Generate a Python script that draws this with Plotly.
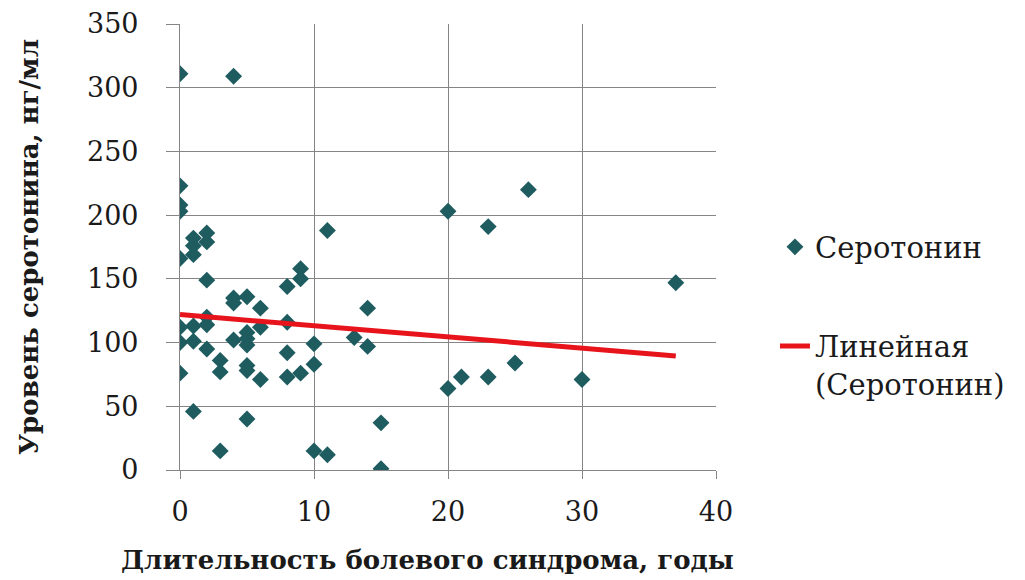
import plotly.graph_objects as go

# Duration of pain syndrome (years) and serum serotonin level (ng/ml)
duration_years = [
    0, 0, 0, 0, 0, 0, 0, 0,
    1, 1, 1, 1, 1, 1,
    2, 2, 2, 2, 2, 2,
    3, 3, 3,
    4, 4, 4, 4,
    5, 5, 5, 5, 5, 5, 5,
    6, 6, 6,
    8, 8, 8, 8,
    9, 9, 9,
    10, 10, 10,
    11, 11,
    13,
    14, 14,
    15, 15,
    20, 20,
    21,
    23, 23,
    25,
    26,
    30,
    37,
]
serotonin_ng_ml = [
    311, 223, 208, 203, 166, 112, 100, 76,
    182, 176, 169, 113, 101, 46,
    186, 179, 149, 120, 114, 95,
    86, 77, 15,
    309, 135, 131, 102,
    136, 108, 103, 98, 82, 78, 40,
    127, 112, 71,
    144, 116, 92, 73,
    158, 150, 76,
    99, 83, 15,
    188, 12,
    104,
    127, 97,
    37, 1,
    203, 64,
    73,
    191, 73,
    84,
    220,
    71,
    147,
]

# linear trend line: end points over the observed duration range
trend_years = [0, 37]
trend_ng_ml = [122, 89.5]

x_ticks = [0, 10, 20, 30, 40]
y_ticks = [0, 50, 100, 150, 200, 250, 300, 350]

series_name = "Серотонин"
trend_name = "Линейная<br>(Серотонин)"
x_title = "Длительность болевого синдрома, годы"
y_title = "Уровень серотонина, нг/мл"

FONT = "DejaVu Serif"
GRID = "#858585"
TEAL = "#1e5c60"
RED = "#e8141c"
TEXT = "#1a1a1a"

fig = go.Figure()
fig.add_trace(go.Scatter(
    x=duration_years, y=serotonin_ng_ml, mode="markers", name=series_name,
    marker=dict(symbol="diamond", size=13, color=TEAL),
    legend="legend",
))
fig.add_trace(go.Scatter(
    x=trend_years, y=trend_ng_ml, mode="lines", name=trend_name,
    line=dict(color=RED, width=5),
    legend="legend2",
))

fig.update_layout(
    width=1025, height=580,
    margin=dict(l=180, r=309, t=24, b=110, autoexpand=False),
    paper_bgcolor="white", plot_bgcolor="white",
    font=dict(family=FONT, size=27, color=TEXT),
    showlegend=True,
    legend=dict(
        x=1.11, y=0.50, xanchor="left", yanchor="middle",
        font=dict(size=29, family=FONT, color=TEXT),
        bgcolor="rgba(0,0,0,0)",
    ),
    legend2=dict(
        x=1.11, y=0.235, xanchor="left", yanchor="middle",
        font=dict(size=29, family=FONT, color=TEXT),
        bgcolor="rgba(0,0,0,0)", valign="top",
    ),
    annotations=[dict(
        text="<b>" + x_title + "</b>", xref="paper", yref="paper",
        x=0.461, y=-0.202, xanchor="center", yanchor="middle", showarrow=False,
        font=dict(size=26, family=FONT, color=TEXT),
    )],
)

fig.update_xaxes(
    range=[0, 40], tickvals=x_ticks, showgrid=True, gridcolor=GRID, gridwidth=1.2,
    zeroline=False, showline=True, linecolor=GRID, linewidth=1.2,
    ticks="outside", ticklen=8, tickcolor=GRID, ticklabelstandoff=9,
    tickfont=dict(size=27, family=FONT, color=TEXT),
)
fig.update_yaxes(
    range=[0, 350], tickvals=y_ticks, showgrid=True, gridcolor=GRID, gridwidth=1.2,
    zeroline=False, showline=True, linecolor=GRID, linewidth=1.2,
    ticks="outside", ticklen=13, tickcolor=GRID, ticklabelstandoff=22,
    tickfont=dict(size=27, family=FONT, color=TEXT),
    title=dict(text="<b>" + y_title + "</b>", standoff=40,
               font=dict(size=26, family=FONT, color=TEXT)),
)

fig.write_html("out.html")
